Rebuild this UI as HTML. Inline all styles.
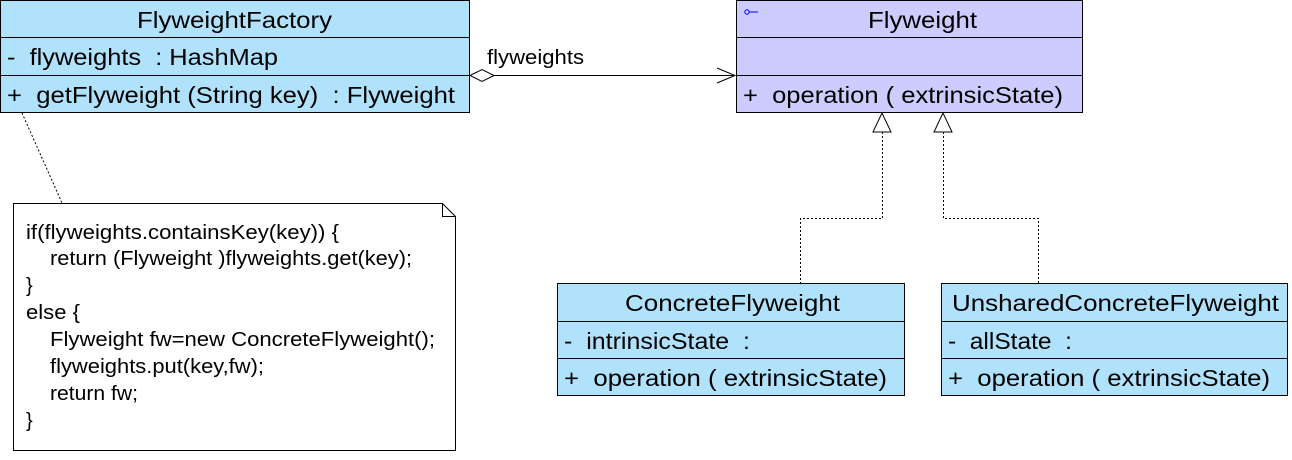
<!DOCTYPE html>
<html><head><meta charset="utf-8"><style>
body{margin:0;background:#fff;width:1292px;height:455px;overflow:hidden}
svg text{font-family:"Liberation Sans",Arial,sans-serif;fill:#000;white-space:pre}
</style></head><body>
<svg width="1292" height="455" xmlns="http://www.w3.org/2000/svg" xml:space="preserve">
<!-- FlyweightFactory -->
<rect x="0.5" y="0.5" width="469" height="112" fill="#b0e2fb" stroke="#000"/>
<line x1="0" y1="37.5" x2="470" y2="37.5" stroke="#000"/>
<line x1="0" y1="75.5" x2="470" y2="75.5" stroke="#000"/>
<text x="137" y="28" font-size="23" textLength="195" lengthAdjust="spacingAndGlyphs">FlyweightFactory</text>
<text x="7" y="65" font-size="23" textLength="271" lengthAdjust="spacingAndGlyphs">-  flyweights  : HashMap</text>
<text x="7" y="103" font-size="23" textLength="448" lengthAdjust="spacingAndGlyphs">+  getFlyweight (String key)  : Flyweight</text>
<!-- Flyweight -->
<rect x="736.5" y="0.5" width="346" height="112" fill="#ccccfe" stroke="#000"/>
<line x1="736" y1="37.5" x2="1083" y2="37.5" stroke="#000"/>
<line x1="736" y1="75.5" x2="1083" y2="75.5" stroke="#000"/>
<circle cx="747" cy="12" r="2.2" fill="none" stroke="#00f"/>
<line x1="749" y1="12" x2="758" y2="12" stroke="#00f"/>
<text x="868" y="28" font-size="23" textLength="109" lengthAdjust="spacingAndGlyphs">Flyweight</text>
<text x="743" y="103" font-size="23" textLength="320" lengthAdjust="spacingAndGlyphs">+  operation ( extrinsicState)</text>
<!-- association -->
<polygon points="470,75.5 482,69.5 494,75.5 482,81.5" fill="#fff" stroke="#000"/>
<line x1="494" y1="75.5" x2="735" y2="75.5" stroke="#000"/>
<polyline points="717,68 735,75.5 717,83" fill="none" stroke="#000"/>
<text x="487" y="64" font-size="20" textLength="97" lengthAdjust="spacingAndGlyphs">flyweights</text>
<!-- generalizations -->
<polygon points="882,113 873,132 891,132" fill="#fff" stroke="#000"/>
<polygon points="943,113 934,132 952,132" fill="#fff" stroke="#000"/>
<polyline points="882.5,132 882.5,218.5 800.5,218.5 800.5,283" fill="none" stroke="#000" stroke-dasharray="2,2"/>
<polyline points="943.5,132 943.5,218.5 1038.5,218.5 1038.5,283" fill="none" stroke="#000" stroke-dasharray="2,2"/>
<!-- ConcreteFlyweight -->
<rect x="557.5" y="283.5" width="347" height="112" fill="#b0e2fb" stroke="#000"/>
<line x1="557" y1="321.5" x2="905" y2="321.5" stroke="#000"/>
<line x1="557" y1="358.5" x2="905" y2="358.5" stroke="#000"/>
<text x="625" y="311" font-size="23" textLength="215" lengthAdjust="spacingAndGlyphs">ConcreteFlyweight</text>
<text x="564" y="349" font-size="23" textLength="186" lengthAdjust="spacingAndGlyphs">-  intrinsicState  :</text>
<text x="564" y="386" font-size="23" textLength="323" lengthAdjust="spacingAndGlyphs">+  operation ( extrinsicState)</text>
<!-- Unshared -->
<rect x="941.5" y="283.5" width="346" height="112" fill="#b0e2fb" stroke="#000"/>
<line x1="941" y1="321.5" x2="1288" y2="321.5" stroke="#000"/>
<line x1="941" y1="358.5" x2="1288" y2="358.5" stroke="#000"/>
<text x="952" y="311" font-size="23" textLength="327" lengthAdjust="spacingAndGlyphs">UnsharedConcreteFlyweight</text>
<text x="948" y="349" font-size="23" textLength="124" lengthAdjust="spacingAndGlyphs">-  allState  :</text>
<text x="948" y="386" font-size="23" textLength="322" lengthAdjust="spacingAndGlyphs">+  operation ( extrinsicState)</text>
<!-- note -->
<line x1="22" y1="113" x2="62" y2="203" stroke="#000" stroke-dasharray="2,2"/>
<polygon points="13.5,203.5 442.5,203.5 455.5,216.5 455.5,450.5 13.5,450.5" fill="#fff" stroke="#000"/>
<polyline points="442.5,203.5 442.5,216.5 455.5,216.5" fill="none" stroke="#000"/>
<g font-size="20">
<text x="26" y="239" textLength="313" lengthAdjust="spacingAndGlyphs">if(flyweights.containsKey(key)) {</text>
<text x="50" y="265" textLength="362" lengthAdjust="spacingAndGlyphs">return (Flyweight )flyweights.get(key);</text>
<text x="26" y="292">}</text>
<text x="26" y="319" textLength="54" lengthAdjust="spacingAndGlyphs">else {</text>
<text x="50" y="346" textLength="385" lengthAdjust="spacingAndGlyphs">Flyweight fw=new ConcreteFlyweight();</text>
<text x="50" y="373" textLength="214" lengthAdjust="spacingAndGlyphs">flyweights.put(key,fw);</text>
<text x="50" y="400" textLength="88" lengthAdjust="spacingAndGlyphs">return fw;</text>
<text x="26" y="427">}</text>
</g>
</svg>
</body></html>
